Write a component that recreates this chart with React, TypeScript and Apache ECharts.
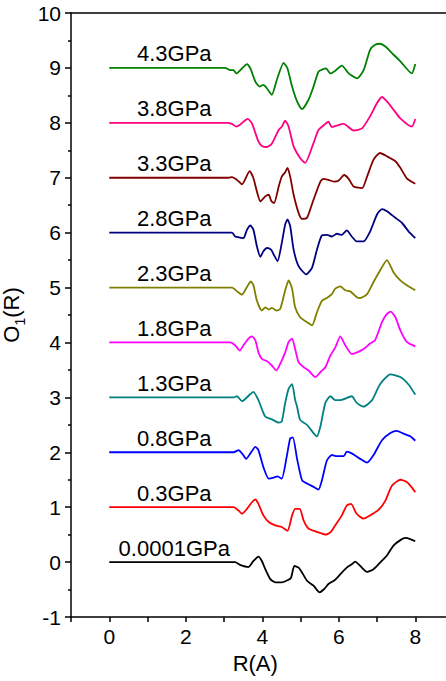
import React, { useEffect, useRef } from "react";
import * as echarts from "echarts";

// Pressure of each O1(R) curve, bottom to top
const pressureLabels = [
  "0.0001GPa", "0.3GPa", "0.8GPa", "1.3GPa", "1.8GPa",
  "2.3GPa", "2.8GPa", "3.3GPa", "3.8GPa", "4.3GPa",
];
// Vertical offset of each curve
const baselines = [0, 1, 2, 3, 4, 5, 6, 7, 8, 9];
const lineColors = [
  "#000000", "#ff0000", "#0000ff", "#008080", "#ff00ff",
  "#808000", "#000080", "#800000", "#ff0080", "#008000",
];

const xTickLabels = [0, 2, 4, 6, 8];
const yTickLabels = [-1, 0, 1, 2, 3, 4, 5, 6, 7, 8, 9, 10];

// [R, O1(R)] for each pressure (offset included)
const curve0001 = [
  [0, 0], [3.29, 0], [3.42, -0.05], [3.64, -0.09], [3.77, 0.02], [3.9, 0.1], [3.99, 0.02],
  [4.08, -0.13], [4.21, -0.31], [4.34, -0.37], [4.51, -0.37], [4.66, -0.33], [4.75, -0.29],
  [4.84, -0.07], [4.95, -0.1], [5.04, -0.19], [5.17, -0.34], [5.34, -0.43], [5.5, -0.55],
  [5.62, -0.49], [5.73, -0.4], [5.87, -0.34], [5.95, -0.29], [6.08, -0.19], [6.21, -0.1],
  [6.34, -0.04], [6.43, 0.01], [6.56, -0.07], [6.74, -0.18], [6.91, -0.13], [7.08, -0.01],
  [7.26, 0.12], [7.43, 0.3], [7.61, 0.4], [7.74, 0.44], [7.87, 0.42], [8.0, 0.38],
];
const curve03 = [
  [0, 1], [3.25, 1], [3.38, 0.94], [3.47, 0.88], [3.6, 0.97], [3.73, 1.09], [3.82, 1.14],
  [3.9, 1.06], [4.03, 0.85], [4.17, 0.73], [4.34, 0.67], [4.51, 0.64], [4.66, 0.57],
  [4.78, 0.85], [4.86, 0.97], [4.98, 0.97], [5.08, 0.76], [5.21, 0.61], [5.39, 0.56],
  [5.52, 0.53], [5.65, 0.5], [5.78, 0.54], [5.91, 0.67], [6.08, 0.85], [6.21, 1.03],
  [6.32, 1.06], [6.47, 0.88], [6.65, 0.79], [6.82, 0.85], [7.04, 0.95], [7.22, 1.12],
  [7.39, 1.39], [7.61, 1.5], [7.78, 1.46], [7.91, 1.36], [8.0, 1.27],
];
const curve08 = [
  [0, 2], [3.25, 2], [3.38, 2.04], [3.47, 1.98], [3.58, 1.88], [3.69, 1.98], [3.82, 2.1],
  [3.9, 2.04], [4.03, 1.73], [4.17, 1.52], [4.3, 1.54], [4.4, 1.56], [4.51, 1.52],
  [4.64, 1.92], [4.73, 2.25], [4.8, 2.27], [4.91, 1.88], [5.04, 1.49], [5.17, 1.43],
  [5.34, 1.37], [5.47, 1.32], [5.56, 1.49], [5.69, 1.85], [5.82, 1.95], [5.95, 1.93],
  [6.13, 1.93], [6.21, 2.01], [6.34, 1.98], [6.56, 1.88], [6.74, 1.81], [6.91, 1.95],
  [7.13, 2.22], [7.35, 2.35], [7.52, 2.39], [7.69, 2.34], [7.87, 2.29], [8.0, 2.21],
];
const curve13 = [
  [0, 3], [3.25, 3], [3.34, 3.02], [3.47, 2.93], [3.69, 3.06], [3.77, 3.1], [3.9, 2.95],
  [4.0, 2.77], [4.08, 2.65], [4.25, 2.6], [4.43, 2.54], [4.51, 2.56], [4.6, 2.9],
  [4.69, 3.16], [4.78, 3.24], [4.86, 2.95], [4.91, 2.83], [4.99, 2.59], [5.17, 2.5],
  [5.34, 2.35], [5.43, 2.29], [5.52, 2.47], [5.65, 2.9], [5.78, 3.02], [5.91, 2.95],
  [6.04, 2.95], [6.34, 3.02], [6.47, 2.9], [6.65, 2.83], [6.87, 2.95], [7.08, 3.24],
  [7.35, 3.42], [7.61, 3.37], [7.83, 3.23], [8.0, 3.05],
];
const curve18 = [
  [0, 4], [3.16, 4], [3.29, 3.95], [3.41, 3.85], [3.51, 3.95], [3.64, 4.07], [3.73, 4.11],
  [3.82, 4.04], [3.9, 3.82], [3.99, 3.7], [4.12, 3.66], [4.25, 3.58], [4.37, 3.49],
  [4.47, 3.61], [4.6, 3.82], [4.69, 4.01], [4.78, 4.07], [4.86, 3.88], [4.95, 3.64],
  [5.08, 3.55], [5.21, 3.49], [5.39, 3.37], [5.52, 3.46], [5.65, 3.55], [5.78, 3.76],
  [5.91, 3.91], [6.04, 4.11], [6.17, 3.95], [6.34, 3.79], [6.48, 3.82], [6.65, 3.88],
  [6.82, 3.98], [6.95, 4.04], [7.13, 4.37], [7.26, 4.52], [7.36, 4.56], [7.48, 4.46],
  [7.61, 4.22], [7.78, 4.01], [8.0, 3.93],
];
const curve23 = [
  [0, 5], [3.21, 5], [3.34, 4.93], [3.47, 4.87], [3.6, 5.01], [3.7, 5.11], [3.77, 5.04],
  [3.86, 4.76], [3.99, 4.58], [4.08, 4.64], [4.17, 4.6], [4.25, 4.63], [4.38, 4.58],
  [4.47, 4.61], [4.6, 4.95], [4.69, 5.13], [4.78, 4.98], [4.86, 4.64], [4.99, 4.46],
  [5.17, 4.37], [5.3, 4.31], [5.43, 4.55], [5.56, 4.76], [5.69, 4.81], [5.82, 4.88],
  [5.91, 4.98], [6.04, 5.02], [6.17, 4.95], [6.3, 4.93], [6.48, 4.82], [6.56, 4.81],
  [6.74, 4.88], [6.91, 5.1], [7.08, 5.31], [7.26, 5.5], [7.43, 5.28], [7.61, 5.13],
  [7.78, 5.04], [8.0, 4.95],
];
const curve28 = [
  [0, 6], [3.21, 6], [3.29, 5.93], [3.42, 5.91], [3.51, 5.9], [3.6, 6.05], [3.69, 6.13],
  [3.77, 6.05], [3.86, 5.75], [3.95, 5.56], [4.03, 5.66], [4.12, 5.72], [4.23, 5.69],
  [4.3, 5.6], [4.4, 5.48], [4.51, 5.81], [4.6, 6.15], [4.66, 6.24], [4.73, 6.12],
  [4.82, 5.69], [4.95, 5.39], [5.15, 5.24], [5.3, 5.36], [5.43, 5.69], [5.56, 5.95],
  [5.69, 5.96], [5.82, 5.93], [5.95, 5.98], [6.08, 5.96], [6.21, 6.04], [6.34, 5.93],
  [6.47, 5.84], [6.65, 5.84], [6.82, 6.02], [7.0, 6.33], [7.13, 6.43], [7.26, 6.39],
  [7.48, 6.27], [7.65, 6.18], [7.83, 6.02], [8.0, 5.9],
];
const curve33 = [
  [0, 7], [3.12, 7], [3.21, 7.01], [3.34, 6.96], [3.47, 6.88], [3.67, 7.12], [3.77, 6.99],
  [3.86, 6.75], [3.95, 6.57], [4.08, 6.66], [4.17, 6.69], [4.24, 6.57], [4.31, 6.54],
  [4.43, 6.84], [4.51, 7.02], [4.6, 7.1], [4.66, 7.18], [4.73, 7.02], [4.82, 6.69],
  [4.95, 6.36], [5.04, 6.25], [5.17, 6.27], [5.34, 6.6], [5.52, 6.93], [5.6, 6.98],
  [5.73, 6.96], [5.87, 6.93], [6.0, 6.95], [6.14, 7.05], [6.26, 6.98], [6.39, 6.84],
  [6.61, 6.81], [6.74, 7.02], [6.91, 7.33], [7.08, 7.45], [7.26, 7.39], [7.48, 7.3],
  [7.61, 7.18], [7.78, 6.99], [8.0, 6.89],
];
const curve38 = [
  [0, 8], [3.08, 8], [3.21, 7.98], [3.32, 7.93], [3.41, 7.96], [3.62, 8.07], [3.73, 7.99],
  [3.9, 7.66], [3.99, 7.58], [4.12, 7.56], [4.25, 7.62], [4.43, 7.87], [4.51, 7.93],
  [4.6, 8.04], [4.69, 7.93], [4.82, 7.57], [4.99, 7.36], [5.12, 7.27], [5.34, 7.63],
  [5.47, 7.87], [5.65, 7.98], [5.73, 8.02], [5.82, 7.92], [5.95, 7.95], [6.13, 7.98],
  [6.39, 7.86], [6.61, 7.9], [6.82, 8.12], [7.0, 8.36], [7.13, 8.47], [7.26, 8.39],
  [7.43, 8.24], [7.61, 8.08], [7.91, 7.93], [8.0, 8.07],
];
const curve43 = [
  [0, 9], [3.03, 9], [3.16, 8.96], [3.25, 8.96], [3.32, 8.9], [3.47, 8.99], [3.6, 9.07],
  [3.69, 8.99], [3.82, 8.75], [3.93, 8.66], [4.03, 8.69], [4.12, 8.63], [4.25, 8.51],
  [4.38, 8.78], [4.56, 9.09], [4.66, 8.99], [4.78, 8.66], [4.91, 8.39], [5.04, 8.25],
  [5.21, 8.42], [5.34, 8.66], [5.47, 8.93], [5.6, 8.98], [5.67, 8.99], [5.78, 8.9],
  [5.91, 8.95], [6.08, 9.04], [6.26, 8.9], [6.48, 8.81], [6.65, 8.96], [6.82, 9.33],
  [6.95, 9.42], [7.08, 9.44], [7.22, 9.39], [7.39, 9.27], [7.61, 9.12], [7.91, 8.9],
  [8.0, 9.07],
];

const curves = [
  curve0001, curve03, curve08, curve13, curve18,
  curve23, curve28, curve33, curve38, curve43,
];

// R at which each pressure label is centred
const labelR = 1.7;

const FONT = "'Liberation Sans', Arial, sans-serif";

export default function App() {
  const ref = useRef<HTMLDivElement>(null);

  useEffect(() => {
    if (!ref.current) return;
    const chart = echarts.init(ref.current, null, { renderer: "svg" });

    const axisLineStyle = { color: "#000", width: 1.5 };

    const series = curves.map((curve, i) => ({
      type: "line",
      name: pressureLabels[i],
      data: curve,
      showSymbol: false,
      symbol: "none",
      smooth: 0.2,
      lineStyle: { color: lineColors[i], width: 1.8 },
      itemStyle: { color: lineColors[i] },
      markPoint: {
        symbol: "circle",
        symbolSize: 0,
        silent: true,
        data: [{ coord: [labelR, baselines[i]], value: pressureLabels[i] }],
        label: {
          show: true,
          position: "top",
          distance: 3,
          formatter: pressureLabels[i],
          color: "#000",
          fontSize: 22,
          fontFamily: FONT,
        },
      },
    }));

    chart.setOption({
      animation: false,
      backgroundColor: "#fff",
      grid: {
        left: 71,
        top: 13,
        width: 382.5,
        height: 604,
        containLabel: false,
        outerBoundsMode: "none",
      },
      xAxis: [
        {
          type: "value",
          min: -1,
          max: 9,
          interval: 1,
          position: "bottom",
          axisLine: { show: true, onZero: false, lineStyle: axisLineStyle },
          axisTick: { show: true, length: 5, lineStyle: axisLineStyle },
          axisLabel: {
            color: "#000",
            fontSize: 21,
            fontFamily: FONT,
            margin: 9,
            formatter: (v: number) => (xTickLabels.includes(v) ? String(v) : ""),
          },
          splitLine: { show: false },
          name: "R(A)",
          nameLocation: "middle",
          nameGap: 35,
          nameTextStyle: {
            color: "#000",
            fontSize: 22,
            fontFamily: FONT,
            padding: [0, 14, 0, 0],
          },
        },
        {
          type: "value",
          min: -1,
          max: 9,
          position: "top",
          axisLine: { show: true, onZero: false, lineStyle: axisLineStyle },
          axisTick: { show: false },
          axisLabel: { show: false },
          splitLine: { show: false },
        },
      ],
      yAxis: {
        type: "value",
        min: -1,
        max: 10,
        interval: 1,
        axisLine: { show: true, onZero: false, lineStyle: axisLineStyle },
        axisTick: { show: true, length: 6, lineStyle: axisLineStyle },
        minorTick: { show: true, splitNumber: 2, length: 3, lineStyle: axisLineStyle },
        axisLabel: {
          color: "#000",
          fontSize: 21,
          fontFamily: FONT,
          margin: 10,
          formatter: (v: number) => (yTickLabels.includes(v) ? String(v) : ""),
        },
        splitLine: { show: false },
        minorSplitLine: { show: false },
        name: "{o|O}{s|1}{o|(R)}",
        nameLocation: "middle",
        nameGap: 28,
        nameTextStyle: {
          color: "#000",
          fontFamily: FONT,
          rich: {
            o: { fontSize: 22, lineHeight: 30, fontFamily: FONT, color: "#000" },
            s: {
              fontSize: 14,
              lineHeight: 12,
              verticalAlign: "bottom",
              fontFamily: FONT,
              color: "#000",
            },
          },
        },
      },
      series,
    });

    return () => chart.dispose();
  }, []);

  return (
    <div
      style={{
        position: "fixed",
        left: 0,
        top: 0,
        width: 446,
        height: 681,
        overflow: "hidden",
        background: "#fff",
      }}
    >
      <div ref={ref} style={{ width: 470, height: 681 }} />
    </div>
  );
}
